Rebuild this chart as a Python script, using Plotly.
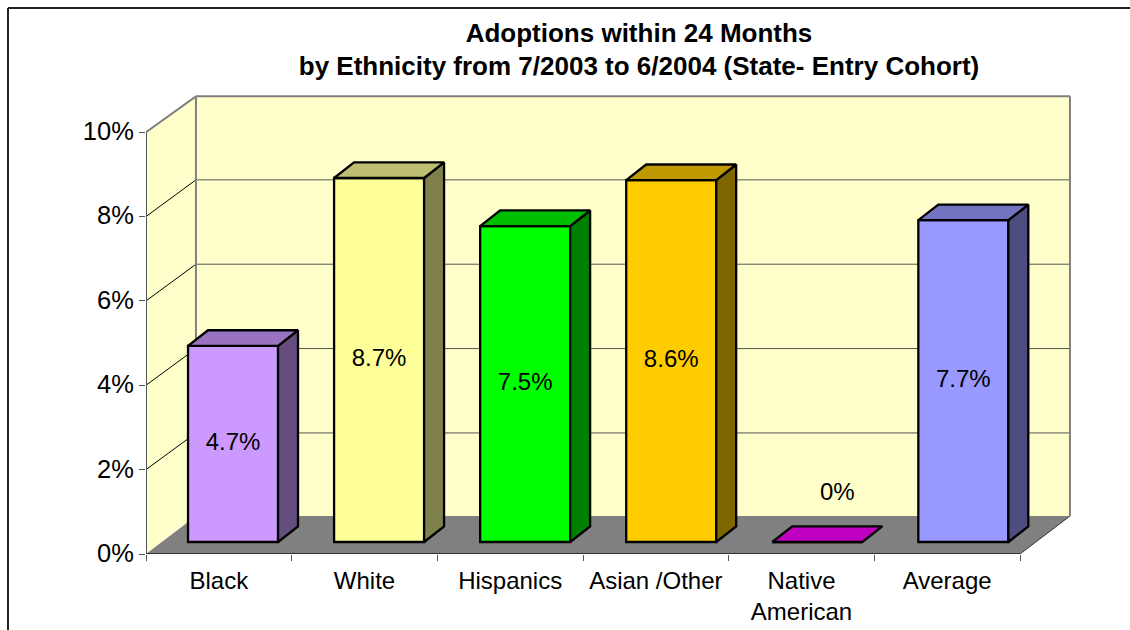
import plotly.graph_objects as go

categories = ["Black", "White", "Hispanics", "Asian /Other", "Native<br>American", "Average"]
values = [4.65, 8.63, 7.49, 8.58, 0, 7.63]
labels = ["4.7%", "8.7%", "7.5%", "8.6%", "0%", "7.7%"]
front_colors = ["#CC99FF", "#FFFF99", "#00FF00", "#FFCC00", "#C000C0", "#9999FF"]
top_colors = ["#9973BF", "#BFBF73", "#00BF00", "#BF9900", "#900090", "#7373BF"]
side_colors = ["#664D80", "#80804D", "#008000", "#806600", "#600060", "#4D4D80"]
y_ticks = [0, 2, 4, 6, 8, 10]
y_tick_text = ["0%", "2%", "4%", "6%", "8%", "10%"]

FONT = "Liberation Sans, Arial, sans-serif"
# depth projection in axis units
WALL_DX, WALL_DY = 0.343, 0.9
WALL_TOP = 10.85
BAR_DX, BAR_DY = 0.137, 0.37
BAR_SHIFT, BAR_BASE, BAR_W = 0.0975, 0.284, 0.618
BAR_STEP = 1.0027
X0, X1 = -0.5, 5.5
EDGE = 2.3


def path(points):
    return "M " + " L ".join(f"{x} {y}" for x, y in points) + " Z"


shapes = [
    dict(type="path", layer="below", xref="x", yref="y", fillcolor="#FFFFCC", line=dict(width=0),
         path=path([(X0, 0), (X0 + WALL_DX, WALL_DY), (X0 + WALL_DX, WALL_TOP), (X0, 10)])),
    dict(type="path", layer="below", xref="x", yref="y", fillcolor="#FFFFCC", line=dict(width=0),
         path=path([(X0 + WALL_DX, WALL_DY), (X1 + WALL_DX, WALL_DY), (X1 + WALL_DX, WALL_TOP), (X0 + WALL_DX, WALL_TOP)])),
    dict(type="path", layer="below", xref="x", yref="y", fillcolor="#808080", line=dict(width=0),
         path=path([(X0, 0), (X1, 0), (X1 + WALL_DX, WALL_DY), (X0 + WALL_DX, WALL_DY)])),
]
for t in y_ticks[1:-1]:
    shapes.append(dict(type="line", layer="below", xref="x", yref="y", x0=X0, y0=t,
                       x1=X0 + WALL_DX, y1=t + WALL_DY - 0.03, line=dict(color="#000000", width=1)))
    shapes.append(dict(type="line", layer="below", xref="x", yref="y", x0=X0 + WALL_DX, y0=t + WALL_DY - 0.03,
                       x1=X1 + WALL_DX, y1=t + WALL_DY - 0.03, line=dict(color="#555555", width=1)))
for (ax, ay, bx, by) in [
    (X0, 10, X0 + WALL_DX, WALL_TOP),
    (X0 + WALL_DX, WALL_TOP, X1 + WALL_DX, WALL_TOP),
    (X0 + WALL_DX, WALL_DY, X0 + WALL_DX, WALL_TOP),
    (X1 + WALL_DX, WALL_DY, X1 + WALL_DX, WALL_TOP),
]:
    shapes.append(dict(type="line", layer="below", xref="x", yref="y", x0=ax, y0=ay, x1=bx, y1=by,
                       line=dict(color="#808080", width=2)))
shapes.append(dict(type="line", layer="below", xref="x", yref="y", x0=X1, y0=0,
                   x1=X1 + WALL_DX, y1=WALL_DY, line=dict(color="#333333", width=1)))
# outer frame of the picture (left and top edges only)
PW, PH = 927.9, 464.0
shapes.append(dict(type="line", xref="paper", yref="paper", x0=(8 - 146) / PW, x1=(8 - 146) / PW,
                   y0=(554 - 632) / PH, y1=(554 - 8) / PH, line=dict(color="#222222", width=2)))
shapes.append(dict(type="line", xref="paper", yref="paper", x0=(8 - 146) / PW, x1=(1132 - 146) / PW,
                   y0=(554 - 8) / PH, y1=(554 - 8) / PH, line=dict(color="#222222", width=2)))

fig = go.Figure()

bar_x = [i * BAR_STEP + BAR_SHIFT for i in range(len(values))]

fig.add_trace(go.Bar(
    x=bar_x, y=values, base=BAR_BASE, width=BAR_W,
    marker=dict(color=front_colors, line=dict(color="#000000", width=EDGE)),
    showlegend=False, hoverinfo="skip",
))

for i, v in enumerate(values):
    left = bar_x[i] - BAR_W / 2
    right = bar_x[i] + BAR_W / 2
    top = BAR_BASE + v
    if v > 0:
        fig.add_trace(go.Scatter(
            x=[right, right + BAR_DX, right + BAR_DX, right, right],
            y=[BAR_BASE, BAR_BASE + BAR_DY, top + BAR_DY, top, BAR_BASE],
            mode="lines", fill="toself", fillcolor=side_colors[i],
            line=dict(color="#000000", width=EDGE), showlegend=False, hoverinfo="skip",
        ))
    fig.add_trace(go.Scatter(
        x=[left, right, right + BAR_DX, left + BAR_DX, left],
        y=[top, top, top + BAR_DY, top + BAR_DY, top],
        mode="lines", fill="toself",
        fillcolor=top_colors[i] if v > 0 else front_colors[i],
        line=dict(color="#000000", width=EDGE), showlegend=False, hoverinfo="skip",
    ))

# value labels: centred on the front face, the empty bar's label floats above it
label_x = [x if v > 0 else x + BAR_DX for x, v in zip(bar_x, values)]
label_y = [BAR_BASE + v / 2 if v > 0 else 1.42 for v in values]
fig.add_trace(go.Scatter(
    x=label_x, y=label_y, text=labels, mode="text", textposition="middle center",
    textfont=dict(family=FONT, size=24, color="#000000"), showlegend=False, hoverinfo="skip",
))

# axis lines, kept to the front edge of the box
fig.add_trace(go.Scatter(x=[X0, X0], y=[0, 10], mode="lines", cliponaxis=False,
                         line=dict(color="#555555", width=2), showlegend=False, hoverinfo="skip"))
fig.add_trace(go.Scatter(x=[X0, X1], y=[0, 0], mode="lines", cliponaxis=False,
                         line=dict(color="#333333", width=2), showlegend=False, hoverinfo="skip"))

fig.update_layout(
    width=1130, height=630,
    margin=dict(l=146, r=56, t=90, b=76, pad=0),
    paper_bgcolor="#FFFFFF", plot_bgcolor="rgba(0,0,0,0)",
    font=dict(family=FONT, color="#000000", size=24),
    shapes=shapes,
    showlegend=False,
    title=dict(
        text="<b>Adoptions within 24 Months<br>by Ethnicity from 7/2003 to 6/2004 (State- Entry Cohort)</b>",
        font=dict(family=FONT, size=26, color="#000000"),
        x=639 / 1130, xanchor="center", y=0.934, yanchor="middle",
    ),
    xaxis=dict(
        range=[X0, X1 + 54 / 145.67], showgrid=False, zeroline=False, showline=False,
        tickmode="array", tickvals=list(range(len(categories))), ticktext=categories,
        ticks="outside", ticklen=5, tickcolor="rgba(0,0,0,0)", tickfont=dict(family=FONT, size=24),
        minor=dict(tickmode="array", tickvals=[X0 + k for k in range(7)], ticks="outside",
                   ticklen=6, tickcolor="#555555", tickwidth=1, showgrid=False),
        automargin=False,
    ),
    yaxis=dict(
        range=[0, 11], showgrid=False, zeroline=False, showline=False,
        tickmode="array", tickvals=y_ticks, ticktext=y_tick_text,
        ticks="outside", ticklen=6, tickcolor="#555555", tickwidth=1,
        tickfont=dict(family=FONT, size=25.5), automargin=False, ticklabelshift=-1,
    ),
)

fig.write_html("out.html", config={"displayModeBar": False}, post_script="document.body.style.margin='0';")
